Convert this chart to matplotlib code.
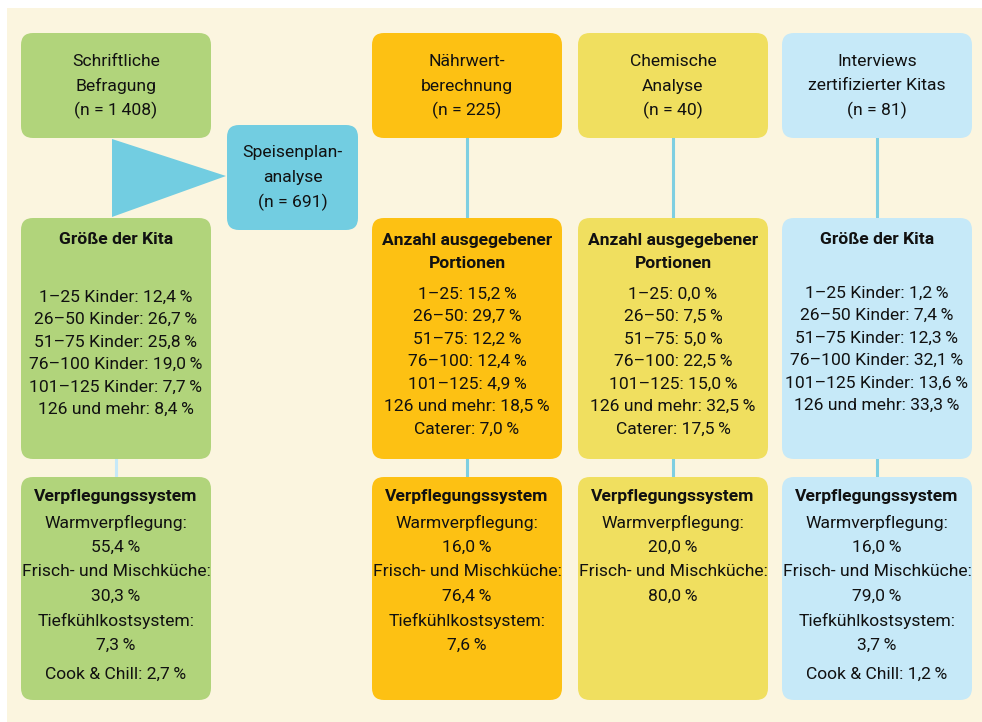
import matplotlib
matplotlib.use("Agg")
import matplotlib.pyplot as plt
from matplotlib.patches import FancyBboxPatch, Polygon, Rectangle
from matplotlib import font_manager

# ---------------- data ----------------
source_titles = ["Schriftliche\nBefragung", "Nährwert-\nberechnung", "Chemische\nAnalyse",
                 "Interviews\nzertifizierter Kitas"]
source_n = [1408, 225, 40, 81]
menu_title = "Speisenplan-\nanalyse"
menu_n = 691

size_labels = ["1–25 Kinder", "26–50 Kinder", "51–75 Kinder", "76–100 Kinder",
               "101–125 Kinder", "126 und mehr"]
portion_labels = ["1–25", "26–50", "51–75", "76–100", "101–125", "126 und mehr", "Caterer"]
survey_size = [12.4, 26.7, 25.8, 19.0, 7.7, 8.4]
nutrient_portions = [15.2, 29.7, 12.2, 12.4, 4.9, 18.5, 7.0]
chemical_portions = [0.0, 7.5, 5.0, 22.5, 15.0, 32.5, 17.5]
interview_size = [1.2, 7.4, 12.3, 32.1, 13.6, 33.3]

system_labels = ["Warmverpflegung", "Frisch- und Mischküche", "Tiefkühlkostsystem", "Cook & Chill"]
survey_system = [55.4, 30.3, 7.3, 2.7]
nutrient_system = [16.0, 76.4, 7.6]
chemical_system = [20.0, 80.0]
interview_system = [16.0, 79.0, 3.7, 1.2]

# ---------------- style ----------------
def pick_font(cands):
    for c in cands:
        try:
            font_manager.findfont(font_manager.FontProperties(family=c), fallback_to_default=False)
            return c
        except Exception:
            pass
    return "DejaVu Sans"

FONT = pick_font(["Liberation Sans Narrow", "DejaVu Sans Condensed", "Roboto", "DejaVu Sans"])
plt.rcParams['font.family'] = [FONT, 'DejaVu Sans']

GREEN = "#b1d47b"
ORANGE = "#fdc113"
YELLOW = "#f0df5f"
LBLUE = "#c6e9f8"
CYAN = "#72cde1"
BG = "#fbf5df"
LINE = "#7ecfe1"
TXT = "#111111"
FS = 12.6

W, H = 982, 722
fig = plt.figure(figsize=(W / 100, H / 100), dpi=100)
ax = fig.add_axes([0, 0, 1, 1])
ax.set_xlim(0, W)
ax.set_ylim(H, 0)
ax.axis("off")

ax.add_patch(Rectangle((7, 8), W - 7, H - 8, facecolor=BG, edgecolor="none", zorder=0))

def fmt_pct(v):
    return f"{v:.1f}".replace(".", ",") + "\u2009%"

def fmt_n(n):
    s = f"{n:,}".replace(",", "\u2009")
    return f"(n = {s})"

def rbox(x0, y0, x1, y1, color):
    ax.add_patch(FancyBboxPatch((x0, y0), x1 - x0, y1 - y0,
                                boxstyle="round,pad=0,rounding_size=12",
                                facecolor=color, edgecolor="none", zorder=2))

def txt(x, y, s, bold=False):
    ax.text(x, y, s, ha="center", va="center", fontsize=FS, color=TXT,
            fontweight="bold" if bold else "normal", zorder=5)

cols = [(21, 211, GREEN), (372, 562, ORANGE), (578, 768, YELLOW), (782, 972, LBLUE)]

# connector lines
for i, (x0, x1, c) in enumerate(cols):
    cx = (x0 + x1) / 2
    if i > 0:
        ax.plot([cx, cx], [138, 218], color=LINE, lw=2.2, zorder=1)
        ax.plot([cx, cx], [459, 477], color=LINE, lw=2.2, zorder=1)
    else:
        ax.plot([cx, cx], [459, 477], color="#c6e9f8", lw=2.2, zorder=1)

# top boxes
for i, (x0, x1, c) in enumerate(cols):
    rbox(x0, 33, x1, 138, c)
    cx = (x0 + x1) / 2
    lines = source_titles[i].split("\n") + [fmt_n(source_n[i])]
    for k, l in enumerate(lines):
        txt(cx, 62 + 24 * k, l)

# menu analysis box and triangle
ax.add_patch(Polygon([(112, 139), (112, 217), (226, 176)], closed=True,
                     facecolor=CYAN, edgecolor="none", zorder=2))
rbox(227, 125, 358, 230, CYAN)
for k, l in enumerate(menu_title.split("\n") + [fmt_n(menu_n)]):
    txt(292.5, 153 + 24.5 * k, l)

# middle boxes
for i, (x0, x1, c) in enumerate(cols):
    rbox(x0, 218, x1, 459, c)

mid_data = [
    (["Größe der Kita"], size_labels, survey_size, 297),
    (["Anzahl ausgegebener", "Portionen"], portion_labels, nutrient_portions, 294),
    (["Anzahl ausgegebener", "Portionen"], portion_labels, chemical_portions, 294),
    (["Größe der Kita"], size_labels, interview_size, 293),
]
for i, (heads, labs, vals, ystart) in enumerate(mid_data):
    cx = (cols[i][0] + cols[i][1]) / 2
    for k, h in enumerate(heads):
        txt(cx, 240 + 23 * k, h, bold=True)
    for k, (lab, v) in enumerate(zip(labs, vals)):
        txt(cx, ystart + 22.5 * k, f"{lab}: {fmt_pct(v)}")

# bottom boxes
sys_data = [survey_system, nutrient_system, chemical_system, interview_system]
for i, (x0, x1, c) in enumerate(cols):
    rbox(x0, 477, x1, 700, c)
    cx = (x0 + x1) / 2
    txt(cx, 497, "Verpflegungssystem", bold=True)
    y = 523
    for k, v in enumerate(sys_data[i]):
        lab = system_labels[k]
        if lab == "Cook & Chill":
            txt(cx, y + 4, f"{lab}: {fmt_pct(v)}")
            y += 24
        else:
            txt(cx, y, lab + ":")
            txt(cx, y + 24, fmt_pct(v))
            y += 49

fig.savefig("out.png", dpi=100, facecolor="white")
